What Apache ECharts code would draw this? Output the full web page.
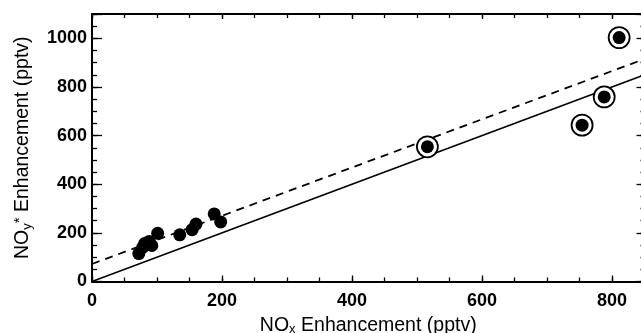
<!DOCTYPE html>
<html>
<head>
<meta charset="utf-8">
<script src="https://cdn.jsdelivr.net/npm/echarts@6/dist/echarts.min.js"></script>
<style>
  html, body { margin: 0; padding: 0; background: #fff; }
  #chart { width: 641px; height: 333px; }
</style>
</head>
<body>
<div id="chart"></div>
<script>
// NOx vs NOy* enhancement (pptv)
const dotX = [72, 78, 81, 88, 92, 101, 135, 154, 160, 188, 198, 516, 754, 788, 811]
const dotY = [115, 140, 156, 165, 148, 198, 192, 213, 236, 278, 245, 554, 643, 759, 1003]
const circledX = [516, 754, 788, 811]
const circledY = [554, 643, 759, 1003]
const fitX = [0, 850]
const oneToOneY = [0, 850]
const dashedY = [72, 915]
const xTickLabels = [0, 200, 400, 600, 800]
const yTickLabels = [0, 200, 400, 600, 800, 1000]

const font = 'Liberation Sans, Arial, Helvetica, sans-serif'
const pairs = (xs, ys) => xs.map((x, i) => [x, ys[i]])

const X_MAX = 850
const Y_MAX = 1100

const axisBase = (min, max, interval, pos, tickLen, withLine, labels, tickList) => ({
  type: 'value',
  position: pos,
  min,
  max,
  interval,
  splitLine: { show: false },
  axisLine: { show: withLine, onZero: false, lineStyle: { color: '#000', width: 2 } },
  axisTick: { show: true, inside: true, length: tickLen, lineStyle: { color: '#000', width: 1.3 } },
  axisLabel: labels
    ? {
        show: true,
        color: '#000',
        fontFamily: font,
        fontWeight: 'bold',
        fontSize: 18,
        margin: pos === 'left' ? 5 : 11,
        formatter: (v) => (tickList.includes(v) ? String(v) : ''),
      }
    : { show: false },
})

const subRich = {
  m: { fontSize: 19.5, lineHeight: 22, fontFamily: font, color: '#000' },
  sub: { fontSize: 13, lineHeight: 10, verticalAlign: 'bottom', fontFamily: font, color: '#000' },
  sup: { fontSize: 15, lineHeight: 12, verticalAlign: 'top', fontFamily: font, color: '#000' },
}

const myChart = echarts.init(document.getElementById('chart'), null, { renderer: 'canvas' })

const option = {
  backgroundColor: '#fff',
  animation: false,
  grid: { left: 92, top: 14, width: 552.5, height: 267.5, outerBoundsMode: 'none' },
  xAxis: [
    {
      ...axisBase(0, X_MAX, 200, 'bottom', 6, true, true, xTickLabels),
      name: '{m|NO}{sub|x}{m| Enhancement (pptv)}',
      nameLocation: 'middle',
      nameGap: 29,
      nameTextStyle: { rich: subRich },
    },
    axisBase(0, X_MAX, 50, 'bottom', 4, false, false),
    axisBase(0, X_MAX, 200, 'top', 5, true, false),
    axisBase(0, X_MAX, 50, 'top', 4, false, false),
  ],
  yAxis: [
    {
      ...axisBase(0, Y_MAX, 200, 'left', 10, true, true, yTickLabels),
      name: '{m|NO}{sub|y}{sup|*}{m| Enhancement (pptv)}',
      nameLocation: 'middle',
      nameGap: 58,
      nameTextStyle: { rich: subRich },
    },
    axisBase(0, Y_MAX, 50, 'left', 5, false, false),
    axisBase(0, Y_MAX, 200, 'right', 8, true, false),
    axisBase(0, Y_MAX, 50, 'right', 4, false, false),
  ],
  series: [
    {
      name: '1:1',
      type: 'line',
      data: pairs(fitX, oneToOneY),
      showSymbol: false,
      lineStyle: { color: '#000', width: 1.5 },
      z: 1,
    },
    {
      name: 'fit',
      type: 'line',
      data: pairs(fitX, dashedY),
      showSymbol: false,
      lineStyle: { color: '#000', width: 1.8, type: [8, 6] },
      z: 1,
    },
    {
      name: 'circled',
      type: 'scatter',
      data: pairs(circledX, circledY),
      symbol: 'circle',
      symbolSize: 21,
      itemStyle: { color: '#fff', borderColor: '#000', borderWidth: 1.8, opacity: 1 },
      z: 2,
    },
    {
      name: 'points',
      type: 'scatter',
      data: pairs(dotX, dotY),
      symbol: 'circle',
      symbolSize: 13,
      itemStyle: { color: '#000', opacity: 1 },
      z: 3,
    },
  ],
}

myChart.setOption(option)
</script>
</body>
</html>
